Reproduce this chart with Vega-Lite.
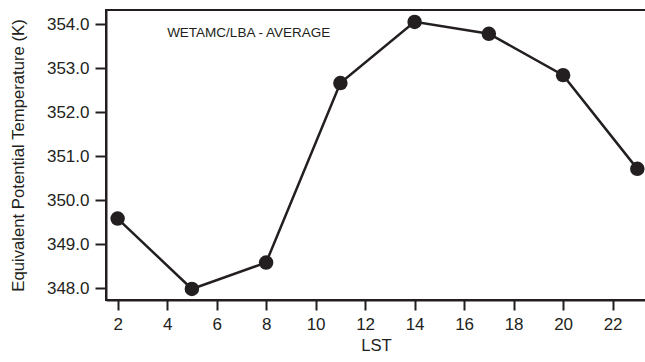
{
  "$schema": "https://vega.github.io/schema/vega-lite/v6.json",
  "width": 540,
  "height": 290,
  "autosize": {"type": "none"},
  "padding": {"left": 106, "top": 10, "right": 0, "bottom": 62},
  "background": "white",
  "config": {
    "font": "Liberation Sans",
    "view": {"stroke": "#231f20", "strokeWidth": 2},
    "axis": {
      "domainColor": "#231f20", "domainWidth": 2,
      "tickColor": "#231f20", "tickWidth": 2,
      "labelColor": "#231f20", "titleColor": "#231f20",
      "labelFont": "Liberation Sans", "titleFont": "Liberation Sans",
      "labelFontSize": 17, "titleFontSize": 16.7, "titleFontWeight": "normal",
      "grid": false
    }
  },
  "datasets": {
    "series": [
      {"LST": 2, "theta": 349.58},
      {"LST": 5, "theta": 347.98},
      {"LST": 8, "theta": 348.58},
      {"LST": 11, "theta": 352.66},
      {"LST": 14, "theta": 354.05},
      {"LST": 17, "theta": 353.78},
      {"LST": 20, "theta": 352.84},
      {"LST": 23, "theta": 350.71}
    ],
    "note": [{"LST": 4, "theta": 353.8, "label": "WETAMC/LBA - AVERAGE"}]
  },
  "layer": [
    {
      "data": {"name": "series"},
      "mark": {"type": "line", "color": "#231f20", "strokeWidth": 2.5},
      "encoding": {
        "x": {
          "field": "LST", "type": "quantitative",
          "scale": {"domain": [1.53, 23.35], "nice": false, "zero": false},
          "axis": {
            "title": "LST", "values": [2, 4, 6, 8, 10, 12, 14, 16, 18, 20, 22],
            "tickSize": 10, "labelPadding": 6, "titlePadding": 5
          }
        },
        "y": {
          "field": "theta", "type": "quantitative",
          "scale": {"domain": [347.73, 354.32], "nice": false, "zero": false},
          "axis": {
            "title": "Equivalent Potential Temperature (K)",
            "values": [348, 348.5, 349, 349.5, 350, 350.5, 351, 351.5, 352, 352.5, 353, 353.5, 354],
            "labelExpr": "datum.value % 1 === 0 ? format(datum.value, '.1f') : ''",
            "tickSize": {"condition": {"test": "datum.value % 1 !== 0", "value": 6}, "value": 11},
            "labelPadding": 6, "titlePadding": 19
          }
        }
      }
    },
    {
      "data": {"name": "series"},
      "mark": {"type": "point", "filled": true, "color": "#231f20", "size": 210, "opacity": 1},
      "encoding": {
        "x": {"field": "LST", "type": "quantitative"},
        "y": {"field": "theta", "type": "quantitative"}
      }
    },
    {
      "data": {"name": "note"},
      "mark": {"type": "text", "align": "left", "baseline": "middle", "fontSize": 13.5, "color": "#231f20", "font": "Liberation Sans"},
      "encoding": {
        "x": {"field": "LST", "type": "quantitative"},
        "y": {"field": "theta", "type": "quantitative"},
        "text": {"field": "label"}
      }
    }
  ]
}
